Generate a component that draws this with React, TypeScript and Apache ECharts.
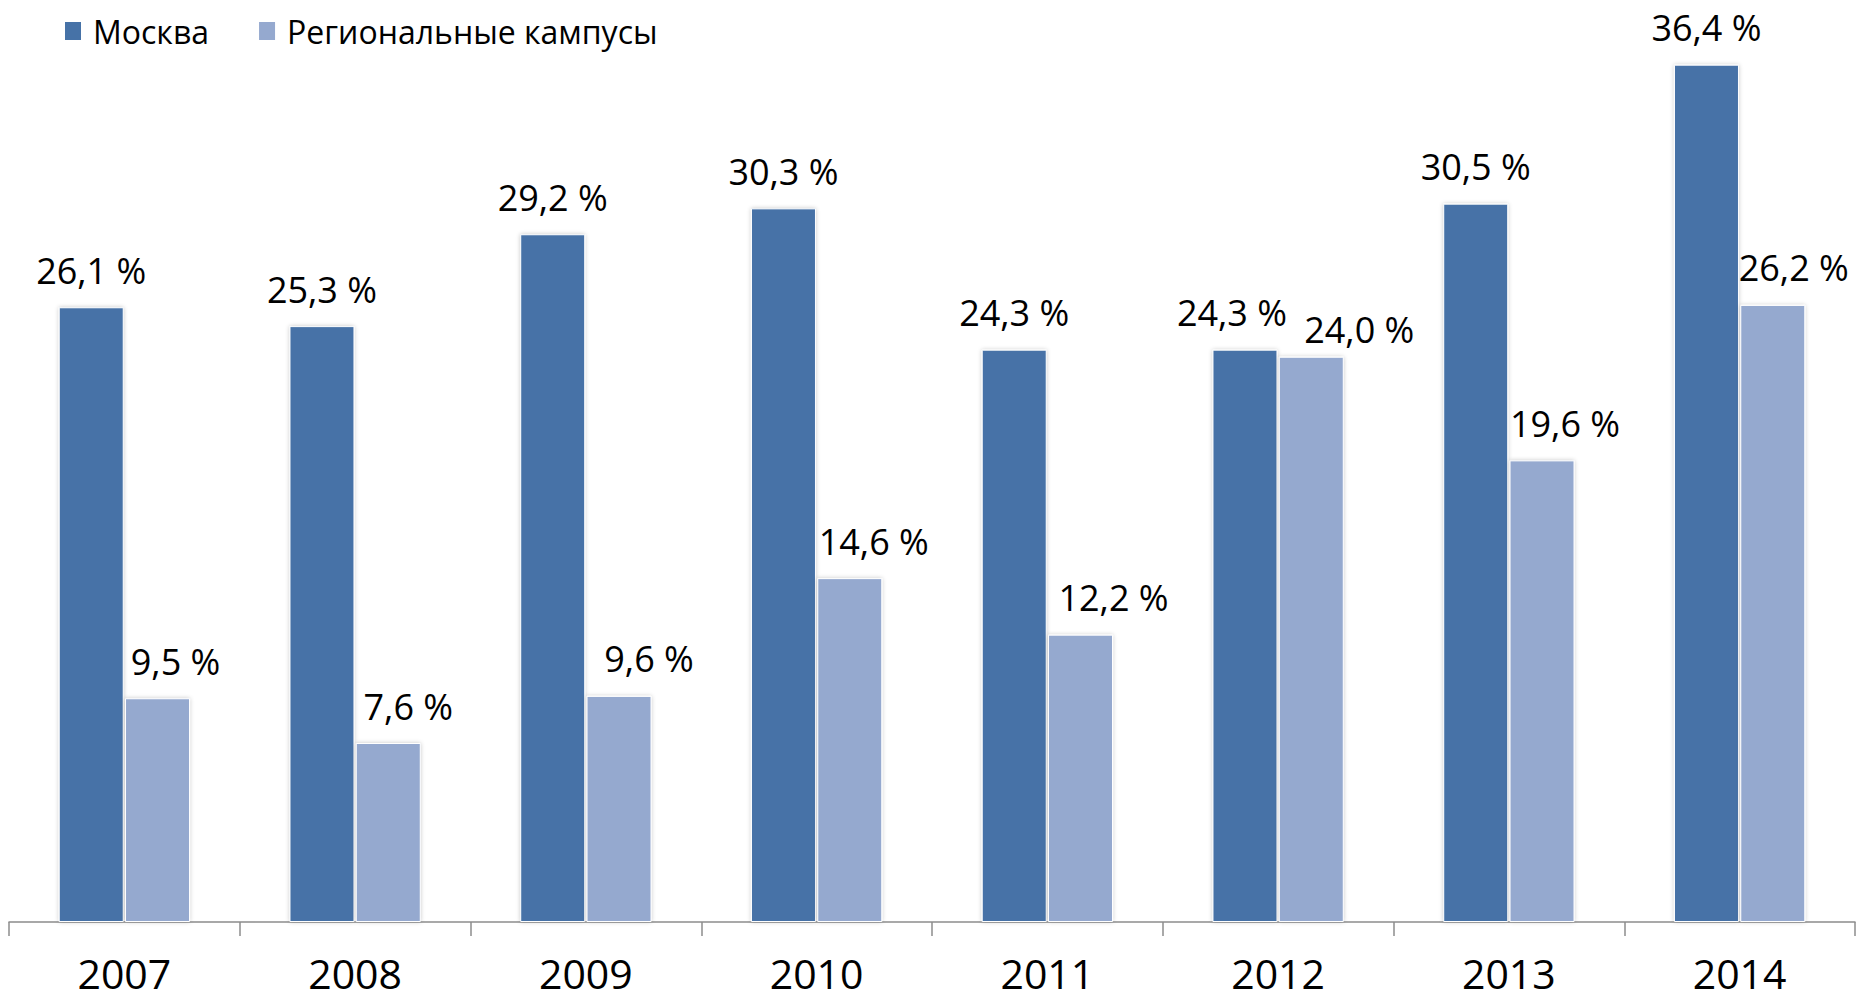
import React, { useEffect, useRef } from "react";
import * as echarts from "echarts";

const years = ["2007", "2008", "2009", "2010", "2011", "2012", "2013", "2014"];
const moscow = [26.1, 25.3, 29.2, 30.3, 24.3, 24.3, 30.5, 36.4];
const regional = [9.5, 7.6, 9.6, 14.6, 12.2, 24.0, 19.6, 26.2];
const seriesNames = ["Москва", "Региональные кампусы"];

const FONT = "'Open Sans', 'Noto Sans', sans-serif";
const DARK = "#4672A7";
const LIGHT = "#95A9CF";

// label nudges (px) to mimic the hand-placed labels of the original
const moscowLabelDx = [0, 0, 0, 0, 0, -13, 0, 0];
const regionalLabelDx = [18, 20, 30, 24, 33, 48, 23, 21];
const regionalLabelDy = [0, 0, 0, 0, 0, 10, 0, 0];

const fmt = (v: number) => v.toFixed(1).replace(".", ",") + " %";

export default function App() {
  const ref = useRef<HTMLDivElement>(null);
  useEffect(() => {
    if (!ref.current) return;
    const chart = echarts.init(ref.current, undefined, { renderer: "svg" });
    const barStyle = (color: string) => ({
      color,
      borderColor: "#ffffff",
      borderWidth: 1,
      shadowColor: "rgba(0,0,0,0.22)",
      shadowBlur: 4,
    });
    const labelBase = {
      show: true,
      position: "top" as const,
      distance: 19,
      fontFamily: FONT,
      fontSize: 36,
      color: "#000",
      formatter: (p: any) => fmt(p.value),
    };
    chart.setOption({
      animation: false,
      backgroundColor: "#ffffff",
      legend: {
        data: seriesNames,
        left: 58,
        top: 10,
        icon: "rect",
        itemWidth: 18,
        itemHeight: 20,
        itemGap: 48,
        textStyle: {
          fontFamily: FONT,
          fontSize: 32,
          color: "#000",
          padding: [0, 0, 0, 6],
        },
      },
      grid: { left: 9, right: 2, top: 27, bottom: 80, containLabel: false },
      xAxis: {
        type: "category",
        data: years,
        axisLine: { show: true, lineStyle: { color: "#8c8c8c", width: 1.5 } },
        axisTick: { show: true, length: 14, lineStyle: { color: "#8c8c8c", width: 1.5 } },
        axisLabel: {
          margin: 36,
          lineHeight: 30,
          fontFamily: FONT,
          fontSize: 41,
          color: "#000",
        },
      },
      yAxis: {
        type: "value",
        min: 0,
        max: 38,
        show: false,
        splitLine: { show: false },
      },
      series: [
        {
          name: seriesNames[0],
          type: "bar",
          barWidth: 65,
          barGap: "2%",
          itemStyle: barStyle(DARK),
          data: moscow.map((v, i) => ({
            value: v,
            label: { ...labelBase, offset: [moscowLabelDx[i], 0] },
          })),
          label: labelBase,
        },
        {
          name: seriesNames[1],
          type: "bar",
          barWidth: 65,
          barGap: "2%",
          itemStyle: barStyle(LIGHT),
          data: regional.map((v, i) => ({
            value: v,
            label: { ...labelBase, offset: [regionalLabelDx[i], regionalLabelDy[i]] },
          })),
          label: labelBase,
        },
      ],
    });
    return () => chart.dispose();
  }, []);
  return (
    <div
      ref={ref}
      style={{ position: "fixed", left: 0, top: 0, width: 1857, height: 1002 }}
    />
  );
}
